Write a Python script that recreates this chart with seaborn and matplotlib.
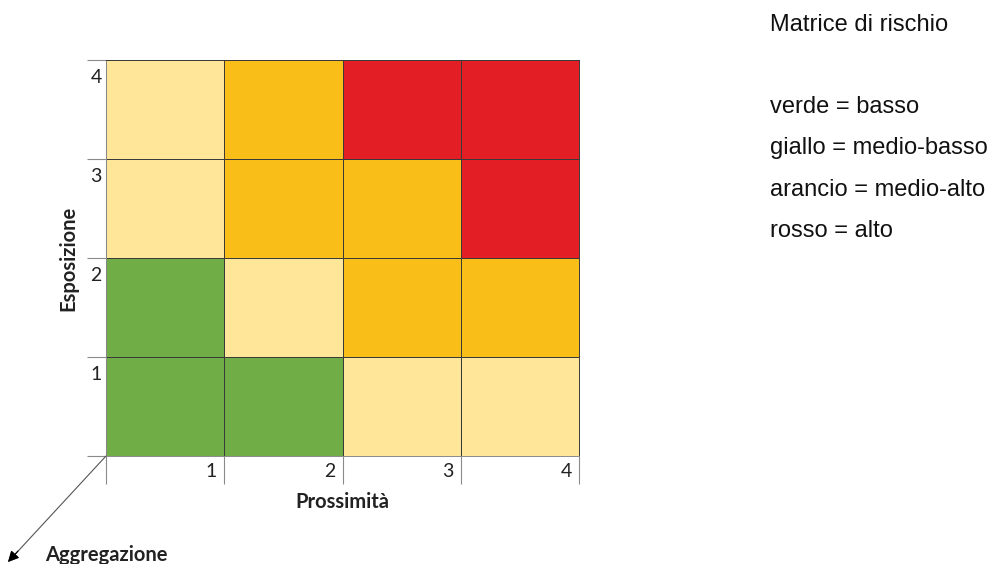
import numpy as np
import pandas as pd
import seaborn as sns
import matplotlib.pyplot as plt
from matplotlib.colors import ListedColormap

# Data
prossimita = [1, 2, 3, 4]            # x categories
esposizione = [4, 3, 2, 1]           # y categories, top to bottom
# risk level: 0 = verde (basso), 1 = giallo (medio-basso), 2 = arancio (medio-alto), 3 = rosso (alto)
row_4 = [1, 2, 3, 3]
row_3 = [1, 2, 2, 3]
row_2 = [0, 1, 2, 2]
row_1 = [0, 0, 1, 1]
level_colors = ["#70AD47", "#FFE699", "#F9BE18", "#E31E24"]
title_text = "Matrice di rischio"
legend_lines = ["verde = basso", "giallo = medio-basso", "arancio = medio-alto", "rosso = alto"]

df = pd.DataFrame([row_4, row_3, row_2, row_1], index=esposizione, columns=prossimita)

sns.set_theme(style="white")
plt.rcParams['font.family'] = ['Lato', 'DejaVu Sans']

fig = plt.figure(figsize=(9.93, 5.64), dpi=100)
ax = fig.add_axes([106/993, 1-456/564, 473/993, 396/564])

sns.heatmap(df, ax=ax, cmap=ListedColormap(level_colors), vmin=-0.5, vmax=3.5,
            cbar=False, linewidths=0.7, linecolor="#3a3a3a", square=False)

for s in ax.spines.values():
    s.set_visible(True)
    s.set_color("#3a3a3a")
    s.set_linewidth(0.7)
ax.spines['left'].set_color("#8a8a8a")
ax.spines['bottom'].set_color("#8a8a8a")

n = len(prossimita)
ax.set_xticks(np.arange(n + 1))
ax.set_yticks(np.arange(n + 1))
ax.set_xticklabels([])
ax.set_yticklabels([])
ax.tick_params(axis='x', bottom=True, length=20, width=0.8, color="#8a8a8a", direction='out')
ax.tick_params(axis='y', left=True, length=14, width=0.8, color="#8a8a8a", direction='out')

# tick numbers
for i, v in enumerate(prossimita):
    ax.text(i + 1 - 0.06, n + 0.07, str(v), ha='right', va='top', fontsize=14,
            color="#222222", clip_on=False)
for i, v in enumerate(esposizione):
    ax.text(-0.035, i + 0.09, str(v), ha='right', va='top', fontsize=14,
            color="#222222", clip_on=False)

ax.set_xlabel("")
ax.set_ylabel("")
ax.text(n / 2, n + 0.36, "Prossimità", ha='center', va='top', fontsize=14.5,
        fontweight='bold', color="#222222", clip_on=False)
ax.text(-0.32, n / 2, "Esposizione", ha='center', va='center', rotation=90,
        fontsize=14.5, fontweight='bold', color="#222222", clip_on=False)

# Aggregazione arrow
ax.annotate("", xy=(8/993, 1-562/564), xycoords='figure fraction',
            xytext=(0, n), textcoords='data',
            arrowprops=dict(arrowstyle='-|>', color='#555555', lw=0.8,
                            mutation_scale=16, shrinkA=0, shrinkB=0))
ax.annotate("", xy=(8/993, 1-562/564), xycoords='figure fraction',
            xytext=(18/993, 1-551/564), textcoords='figure fraction',
            arrowprops=dict(arrowstyle='-|>', color='#000000', lw=0.8,
                            mutation_scale=16, shrinkA=0, shrinkB=0))
fig.text(45/993, 1-555/564, "Aggregazione", ha='left', va='center', fontsize=14.5,
         fontweight='bold', color="#222222")

# Right-side text
fig.text(770/993, 1-25/564, title_text, ha='left', va='center', fontsize=17,
         family='Liberation Sans', color="#111111")
for k, line in enumerate(legend_lines):
    fig.text(770/993, 1-(107 + 41.3*k)/564, line, ha='left', va='center', fontsize=17,
             family='Liberation Sans', color="#111111")

fig.savefig("out.png", dpi=100)
